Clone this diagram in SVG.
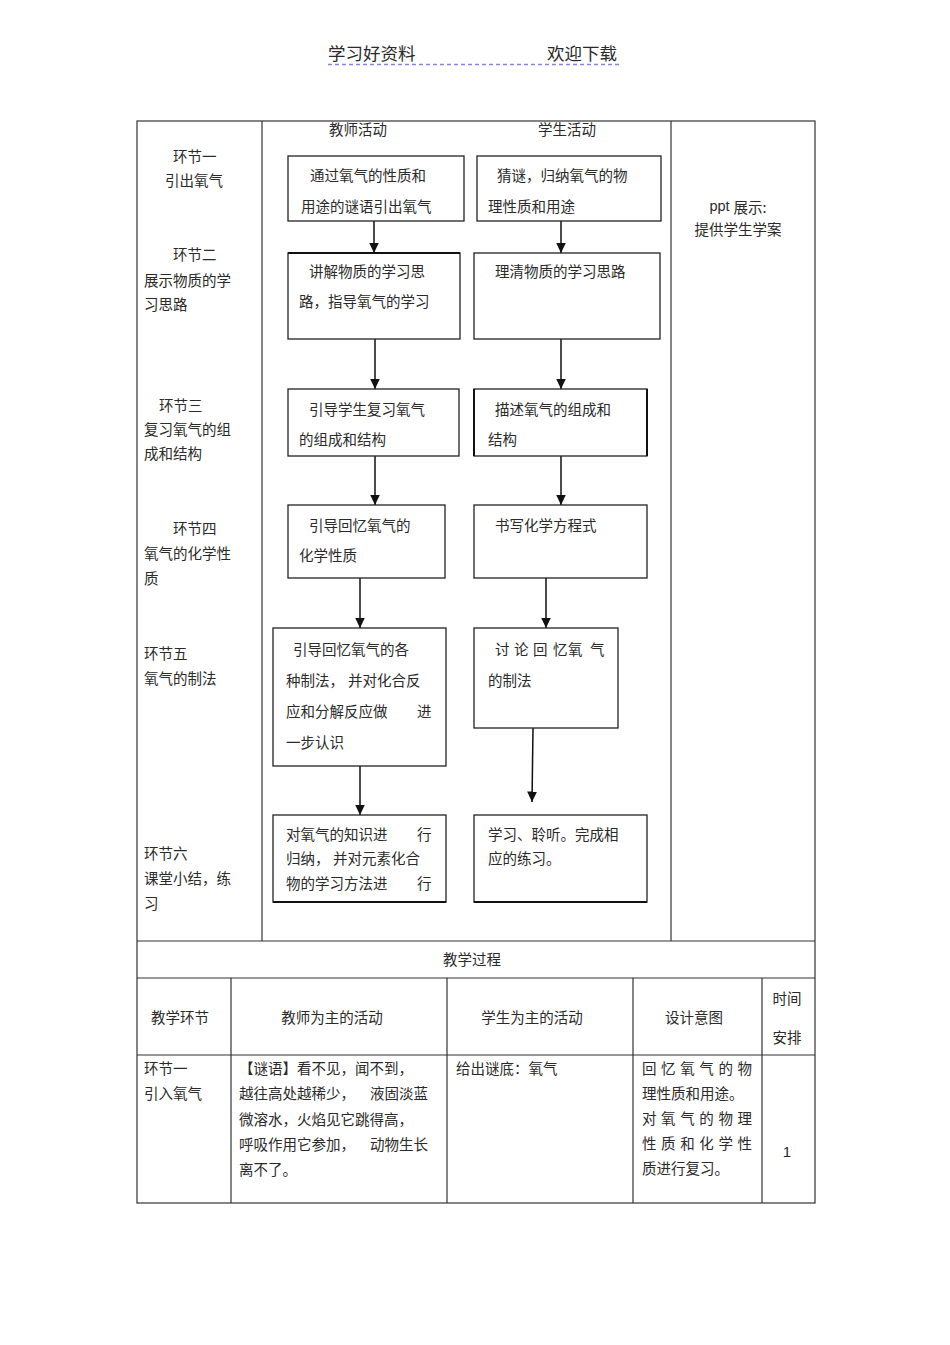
<svg xmlns="http://www.w3.org/2000/svg" width="950" height="1345" viewBox="0 0 950 1345">
<defs>
<style>
.t{font-family:"Noto Sans CJK SC","Liberation Sans",sans-serif;font-size:14.5px;fill:#2a2a2a;dominant-baseline:central}
.h{font-family:"Noto Sans CJK SC","Liberation Sans",sans-serif;font-size:17.5px;fill:#2a2a2a;dominant-baseline:central}
.l{font-family:"Liberation Sans","Noto Sans CJK SC",sans-serif;font-size:15px;fill:#2a2a2a;dominant-baseline:central}
.c{text-anchor:middle}
.box{fill:#fff;stroke:#222;stroke-width:1.3}
.grid{fill:none;stroke:#333;stroke-width:1.2}
.arr{fill:none;stroke:#111;stroke-width:1.5;marker-end:url(#ah)}
</style>
<marker id="ah" markerUnits="userSpaceOnUse" markerWidth="11" markerHeight="10" refX="10.5" refY="5" orient="auto" viewBox="0 0 11 10">
<path d="M0,0 L10.5,5 L0,10 Z" fill="#111"/>
</marker>
</defs>
<rect width="950" height="1345" fill="#fff"/>

<g id="page-header">
<text class="h" x="328" y="52">学习好资料</text>
<text class="h" x="547" y="52">欢迎下载</text>
<line x1="328" y1="64.5" x2="622" y2="64.5" stroke="#8585e0" stroke-width="1.5" stroke-dasharray="4,3"/>
</g>

<g id="table-grid">
<rect class="grid" x="137" y="121" width="678" height="1082"/>
<line class="grid" x1="262" y1="121" x2="262" y2="941"/>
<line class="grid" x1="671" y1="121" x2="671" y2="941"/>
<line class="grid" x1="137" y1="941" x2="815" y2="941"/>
<line class="grid" x1="137" y1="978" x2="815" y2="978"/>
<line class="grid" x1="137" y1="1055" x2="815" y2="1055"/>
<line class="grid" x1="231" y1="978" x2="231" y2="1203"/>
<line class="grid" x1="447" y1="978" x2="447" y2="1203"/>
<line class="grid" x1="633" y1="978" x2="633" y2="1203"/>
<line class="grid" x1="762" y1="978" x2="762" y2="1203"/>
</g>

<g id="stage-labels">
<text class="t" x="173" y="155">环节一</text>
<text class="t" x="165" y="179">引出氧气</text>
<text class="t" x="173" y="253">环节二</text>
<text class="t" x="144" y="279">展示物质的学</text>
<text class="t" x="144" y="303">习思路</text>
<text class="t" x="159" y="404">环节三</text>
<text class="t" x="144" y="428">复习氧气的组</text>
<text class="t" x="144" y="452">成和结构</text>
<text class="t" x="173" y="527">环节四</text>
<text class="t" x="144" y="552">氧气的化学性</text>
<text class="t" x="144" y="577">质</text>
<text class="t" x="144" y="652">环节五</text>
<text class="t" x="144" y="677">氧气的制法</text>
<text class="t" x="144" y="852">环节六</text>
<text class="t" x="144" y="877">课堂小结，练</text>
<text class="t" x="144" y="902">习</text>
</g>

<g id="column-headers">
<text class="t c" x="358" y="128">教师活动</text>
<text class="t c" x="567" y="128">学生活动</text>
</g>

<g id="ppt-note">
<text class="t c" x="738" y="206"><tspan font-family="Liberation Sans, sans-serif">ppt </tspan>展示:</text>
<text class="t c" x="738" y="228">提供学生学案</text>
</g>

<g id="connectors">
<path class="arr" d="M374,221 V253"/>
<path class="arr" d="M375,339 V389"/>
<path class="arr" d="M375,456 V505"/>
<path class="arr" d="M360,578 V628"/>
<path class="arr" d="M360,766 V815"/>
<path class="arr" d="M561,221 V253"/>
<path class="arr" d="M561,339 V389"/>
<path class="arr" d="M561,456 V505"/>
<path class="arr" d="M546,578 V628"/>
<path class="arr" d="M533,728 L532,802"/>
</g>

<g id="t1">
<rect class="box" x="288" y="156" width="176" height="65"/>
<text class="t" x="310" y="174">通过氧气的性质和</text>
<text class="t" x="301" y="205">用途的谜语引出氧气</text>
</g>
<g id="s1">
<rect class="box" x="477" y="156" width="184" height="65"/>
<text class="t" x="497" y="174">猜谜，归纳氧气的物</text>
<text class="t" x="488" y="205">理性质和用途</text>
</g>

<g id="t2">
<rect class="box" x="288" y="253" width="172" height="86"/>
<line x1="288" y1="253" x2="460" y2="253" stroke="#111" stroke-width="2"/>
<text class="t" x="309" y="270">讲解物质的学习思</text>
<text class="t" x="299" y="300">路，指导氧气的学习</text>
</g>
<g id="s2">
<rect class="box" x="474" y="253" width="186" height="86"/>
<text class="t" x="495" y="270">理清物质的学习思路</text>
</g>

<g id="t3">
<rect class="box" x="288" y="389" width="171" height="67"/>
<text class="t" x="309" y="408">引导学生复习氧气</text>
<text class="t" x="299" y="438">的组成和结构</text>
</g>
<g id="s3">
<rect class="box" x="474" y="389" width="173" height="67"/>
<line x1="474" y1="389" x2="474" y2="456" stroke="#111" stroke-width="2"/>
<line x1="647" y1="389" x2="647" y2="456" stroke="#111" stroke-width="2"/>
<text class="t" x="495" y="408">描述氧气的组成和</text>
<text class="t" x="488" y="438">结构</text>
</g>

<g id="t4">
<rect class="box" x="288" y="505" width="157" height="73"/>
<text class="t" x="309" y="524">引导回忆氧气的</text>
<text class="t" x="299" y="554">化学性质</text>
</g>
<g id="s4">
<rect class="box" x="474" y="505" width="173" height="73"/>
<text class="t" x="495" y="524">书写化学方程式</text>
</g>

<g id="t5">
<rect class="box" x="273" y="628" width="173" height="138"/>
<text class="t" x="293" y="648">引导回忆氧气的各</text>
<text class="t" x="286" y="679">种制法，<tspan x="348">并对化合反</tspan></text>
<text class="t" x="286" y="710">应和分解反应做<tspan x="417">进</tspan></text>
<text class="t" x="286" y="741">一步认识</text>
</g>
<g id="s5">
<rect class="box" x="474" y="628" width="144" height="100"/>
<text class="t" x="495 514 533 553 568 590" y="648">讨论回忆氧气</text>
<text class="t" x="488" y="679">的制法</text>
</g>

<g id="t6">
<rect class="box" x="273" y="815" width="173" height="87"/>
<line x1="273" y1="902" x2="446" y2="902" stroke="#111" stroke-width="2"/>
<text class="t" x="286" y="833">对氧气的知识进<tspan x="417">行</tspan></text>
<text class="t" x="286" y="857">归纳，<tspan x="333">并对元素化合</tspan></text>
<text class="t" x="286" y="882">物的学习方法进<tspan x="417">行</tspan></text>
</g>
<g id="s6">
<rect class="box" x="474" y="815" width="173" height="87"/>
<line x1="474" y1="902" x2="647" y2="902" stroke="#111" stroke-width="2"/>
<text class="t" x="488" y="833">学习、聆听。完成相</text>
<text class="t" x="488" y="857">应的练习。</text>
</g>

<g id="process-table">
<text class="t c" x="472" y="958">教学过程</text>
<text class="t c" x="180" y="1016">教学环节</text>
<text class="t c" x="332" y="1016">教师为主的活动</text>
<text class="t c" x="532" y="1016">学生为主的活动</text>
<text class="t c" x="694" y="1016">设计意图</text>
<text class="t c" x="787" y="997">时间</text>
<text class="t c" x="787" y="1036">安排</text>

<text class="t" x="144" y="1067">环节一</text>
<text class="t" x="144" y="1092">引入氧气</text>

<text class="t" x="239" y="1067">【谜语】看不见，闻不到，</text>
<text class="t" x="239" y="1092">越往高处越稀少，<tspan x="370">液固淡蓝</tspan></text>
<text class="t" x="239" y="1118">微溶水，火焰见它跳得高，</text>
<text class="t" x="239" y="1143">呼吸作用它参加，<tspan x="370">动物生长</tspan></text>
<text class="t" x="239" y="1168">离不了。</text>

<text class="t" x="456" y="1067">给出谜底：氧气</text>

<text class="t" x="642" y="1067" textLength="110" lengthAdjust="spacing">回忆氧气的物</text>
<text class="t" x="642" y="1092">理性质和用途。</text>
<text class="t" x="642" y="1117" textLength="110" lengthAdjust="spacing">对氧气的物理</text>
<text class="t" x="642" y="1142" textLength="110" lengthAdjust="spacing">性质和化学性</text>
<text class="t" x="642" y="1167">质进行复习。</text>

<text class="l c" x="787" y="1151">1</text>
</g>
</svg>
